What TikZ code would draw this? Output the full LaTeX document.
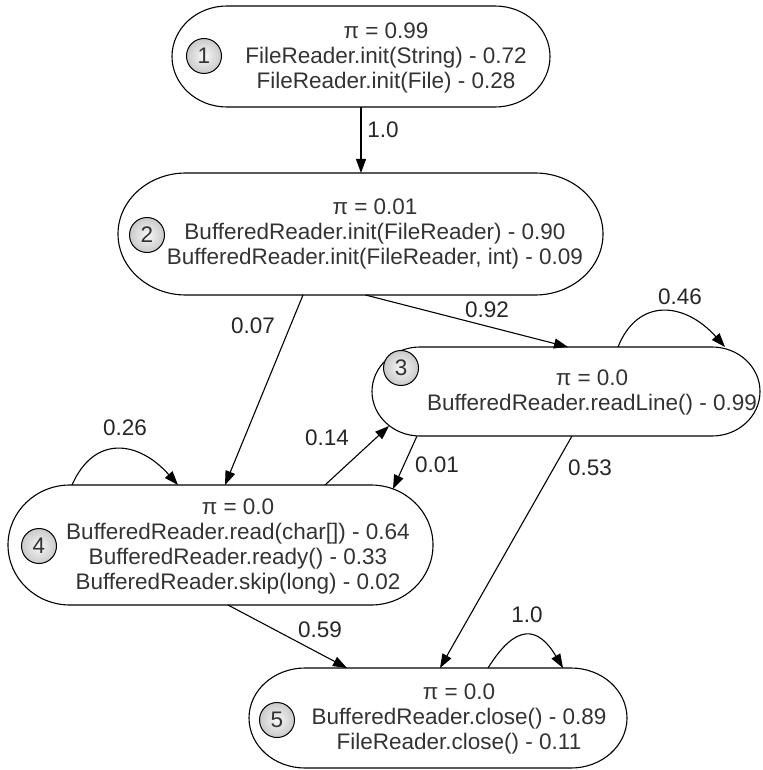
\documentclass[tikz,border=0pt]{standalone}
\usepackage{fontspec}
\setmainfont{Liberation Sans}
\usetikzlibrary{arrows.meta}
\definecolor{ink}{HTML}{333333}

% stadium outline around a named frame node: name, end x-radius, end y-radius
\newcommand\stadium[3]{%
  \draw[outline] ([xshift=#2]#1.north west) -- ([xshift=-#2]#1.north east)
    arc[start angle=90,end angle=-90,x radius=#2,y radius=#3]
    -- ([xshift=#2]#1.south west)
    arc[start angle=270,end angle=90,x radius=#2,y radius=#3] -- cycle;}

\begin{document}
\begin{tikzpicture}[x=1pt,y=-1pt,
  every node/.style={font=\fontsize{22.5}{25}\selectfont, text=ink},
  frame/.style={draw=none, inner sep=0pt, outer sep=0pt, rectangle},
  outline/.style={draw=black, line width=1.1pt, fill=white},
  body/.style={align=center, inner sep=0pt},
  badge/.style={circle, draw=black, line width=1pt, minimum size=35pt, inner sep=0pt,
    shading=radial, inner color=gray!6, outer color=gray!42},
  trans/.style={draw=black, line width=1.1pt, -{Triangle[length=14pt,width=10pt]}},
  prob/.style={inner sep=0pt, text=black!85}]

\useasboundingbox (0,0) rectangle (762,770);
\fill[white] (0,0) rectangle (762,770);

% state frames
\node[frame, minimum width=378pt, minimum height=101pt] (n1) at (361,56.5) {};
\node[frame, minimum width=485pt, minimum height=122pt] (n2) at (360.5,234) {};
\node[frame, minimum width=388pt, minimum height=89pt]  (n3) at (566,391.5) {};
\node[frame, minimum width=425pt, minimum height=120pt] (n4) at (220.5,545) {};
\node[frame, minimum width=378pt, minimum height=100pt] (n5) at (438,718) {};

\stadium{n1}{55pt}{50.5pt}
\stadium{n2}{68pt}{61pt}
\stadium{n3}{48pt}{44.5pt}
\stadium{n4}{62pt}{60pt}
\stadium{n5}{56pt}{50pt}

% state badges
\node[badge] (c1) at (204,56) {1};
\node[badge] (c2) at (147,235) {2};
\node[badge] (c3) at (401,368) {3};
\node[badge] (c4) at (39,546) {4};
\node[badge] (c5) at (277,720) {5};

% state contents
\node[body] (t1) at (386,58) {π = 0.99\\FileReader.init(String) - 0.72\\FileReader.init(File) - 0.28};
\node[body] (t2) at (375,234) {π = 0.01\\BufferedReader.init(FileReader) - 0.90\\BufferedReader.init(FileReader, int) - 0.09};
\node[body] (t3) at (592,392) {π = 0.0\\BufferedReader.readLine() - 0.99};
\node[body] (t4) at (238,546) {π = 0.0\\BufferedReader.read(char[]) - 0.64\\BufferedReader.ready() - 0.33\\BufferedReader.skip(long) - 0.02};
\node[body] (t5) at (459,719) {π = 0.0\\BufferedReader.close() - 0.89\\FileReader.close() - 0.11};

% transitions
\draw[trans] (n1.south) -- (n1.south |- n2.north);
\draw[trans] ([xshift=-57.5pt]n2.south) -- ([xshift=4.5pt]n4.north);
\draw[trans] ([xshift=5pt]n2.south) -- ([xshift=2pt]n3.north);
\draw[trans] ([xshift=52pt]n3.north) .. controls +(20,-50) and +(-40,-45) .. ([xshift=159pt]n3.north);
\draw[trans] ([xshift=104.5pt]n4.north) -- ([xshift=17pt,yshift=10pt]n3.south west);
\draw[trans] ([xshift=45pt]n3.south west) -- ([xshift=-40pt,yshift=-4pt]n4.north east);
\draw[trans] ([xshift=6pt]n3.south) -- ([xshift=2pt]n5.north);
\draw[trans] ([xshift=-148.5pt]n4.north) .. controls +(22,-50) and +(-40,-45) .. ([xshift=-42.5pt]n4.north);
\draw[trans] ([xshift=7.5pt]n4.south) -- ([xshift=-91pt]n5.north);
\draw[trans] ([xshift=50pt]n5.north) .. controls +(28,-45) and +(-25,-42) .. ([xshift=125pt]n5.north);

% transition probabilities
\node[prob] (p12) at (383,130) {1.0};
\node[prob] (p24) at (253,326) {0.07};
\node[prob] (p23) at (487,310) {0.92};
\node[prob] (p33) at (680,297) {0.46};
\node[prob] (p44) at (125,428) {0.26};
\node[prob] (p43) at (327,438) {0.14};
\node[prob] (p34) at (437,465) {0.01};
\node[prob] (p35) at (590,468) {0.53};
\node[prob] (p45) at (320,630) {0.59};
\node[prob] (p55) at (527,615) {1.0};
\end{tikzpicture}
\end{document}
